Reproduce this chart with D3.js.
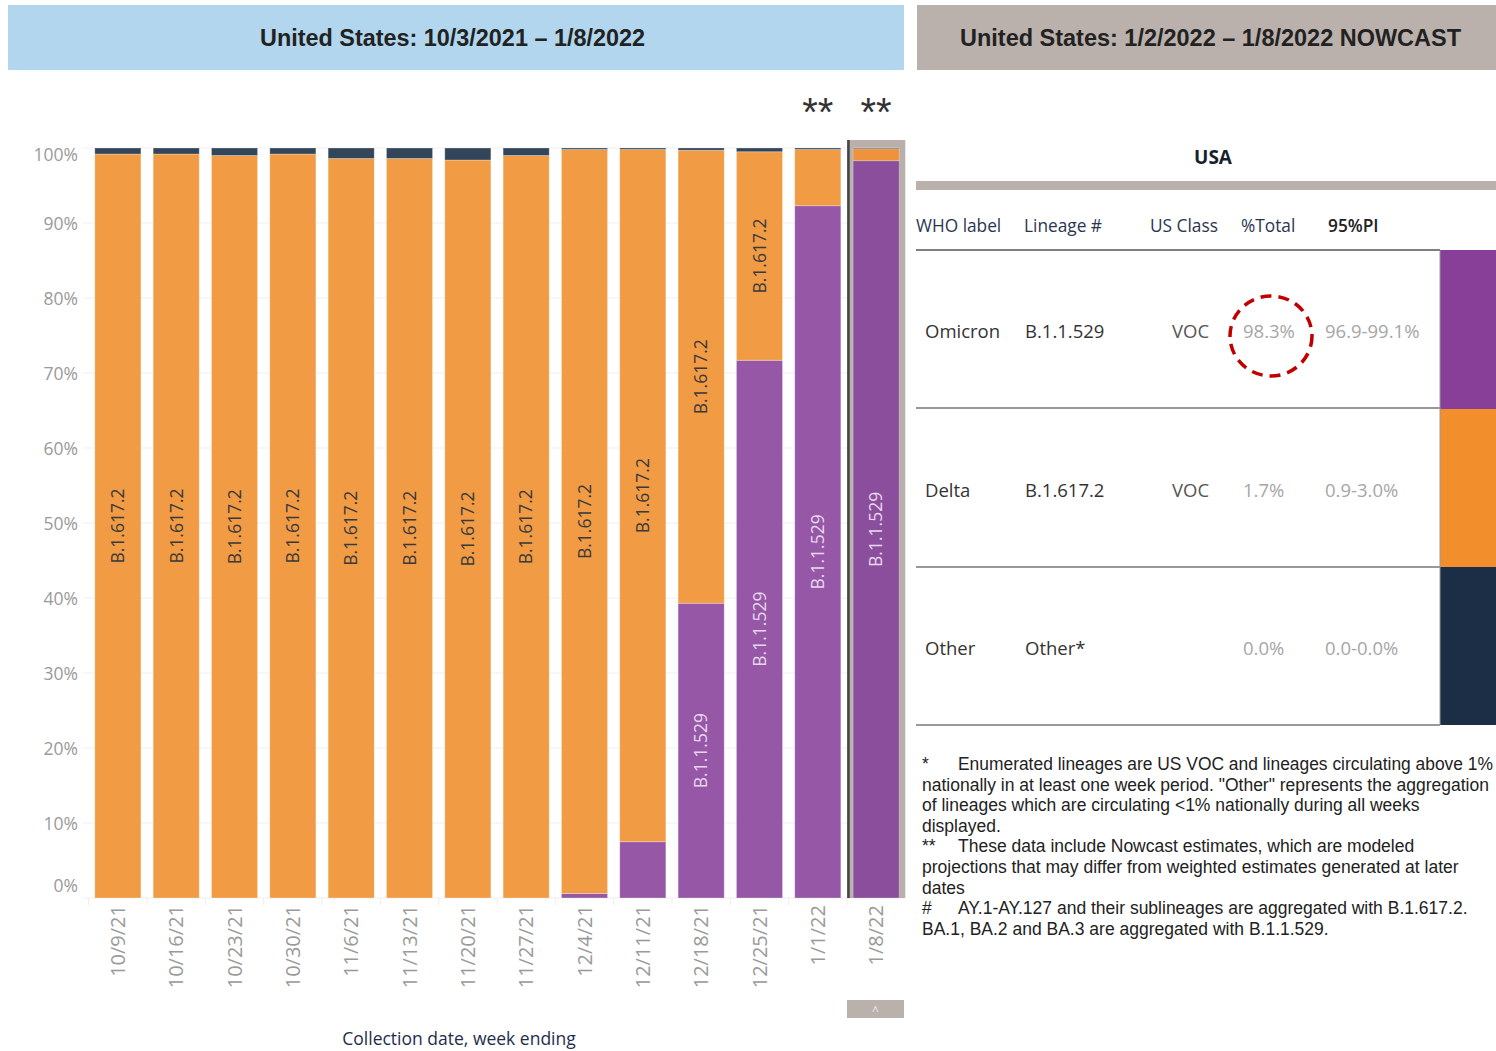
<!DOCTYPE html>
<html><head><meta charset="utf-8">
<script src="https://cdn.jsdelivr.net/npm/d3@7"></script>
<style>
html,body{margin:0;padding:0;background:#fff;overflow:hidden;}
svg{display:block;}
</style></head>
<body>
<svg id="c" width="1496" height="1051"></svg>
<script>
// ---------- DATA ----------
const weeks = ["10/9/21","10/16/21","10/23/21","10/30/21","11/6/21","11/13/21","11/20/21","11/27/21","12/4/21","12/11/21","12/18/21","12/25/21","1/1/22","1/8/22"];
const omicron = [0,0,0,0,0,0,0,0,0.6,7.5,39.3,71.7,92.3,98.3];
const other   = [0.8,0.8,1.0,0.8,1.4,1.4,1.6,1.0,0.2,0.2,0.3,0.5,0.2,0.1];
const delta   = [99.2,99.2,99.0,99.2,98.6,98.6,98.4,99.0,99.2,92.3,60.4,27.8,7.5,1.6];
const nowcastWeeks = ["1/1/22","1/8/22"];
const yTicks = [0,10,20,30,40,50,60,70,80,90,100];
const seriesNames = ["B.1.1.529","B.1.617.2","Other"];

const tableWho = ["Omicron","Delta","Other"];
const tableLineage = ["B.1.1.529","B.1.617.2","Other*"];
const tableClass = ["VOC","VOC",""];
const tablePct = ["98.3%","1.7%","0.0%"];
const tablePI = ["96.9-99.1%","0.9-3.0%","0.0-0.0%"];
const tableHeaders = ["WHO label","Lineage #","US Class","%Total","95%PI"];

const footnotes = [
  ["*","Enumerated lineages are US VOC and lineages circulating above 1%"],
  ["","nationally in at least one week period. \"Other\" represents the aggregation"],
  ["","of lineages which are circulating <1% nationally during all weeks"],
  ["","displayed."],
  ["**","These data include Nowcast estimates, which are modeled"],
  ["","projections that may differ from weighted estimates generated at later"],
  ["","dates"],
  ["#","AY.1-AY.127 and their sublineages are aggregated with B.1.617.2."],
  ["","BA.1, BA.2 and BA.3 are aggregated with B.1.1.529."]
];

// ---------- STYLE ----------
const col = {"B.1.1.529":"#9657a6","B.1.617.2":"#f29b45","Other":"#334659"};
const colSel = {"B.1.1.529":"#8b4e9c","B.1.617.2":"#ee933c","Other":"#2c3e52"};
const swatch = ["#873f98","#f28e2b","#1b2e45"];
const uiFont = "'Open Sans','Noto Sans',sans-serif";

const svg = d3.select("#c");

// ---------- TITLES ----------
svg.append("rect").attr("x",8).attr("y",5).attr("width",896).attr("height",65).attr("fill","#b1d6ed");
svg.append("rect").attr("x",917).attr("y",5).attr("width",579).attr("height",65).attr("fill","#bab0ac");
svg.append("text").attr("x",452.5).attr("y",46).attr("text-anchor","middle")
  .attr("font-family","'Liberation Sans Narrow','Arial Narrow','Liberation Sans',Arial,sans-serif")
  .attr("font-weight","bold").attr("font-size",23).attr("fill","#222")
  .attr("textLength",385).attr("lengthAdjust","spacingAndGlyphs")
  .text("United States: 10/3/2021 – 1/8/2022");
svg.append("text").attr("x",1210.5).attr("y",46).attr("text-anchor","middle")
  .attr("font-family","'Liberation Sans Narrow','Arial Narrow','Liberation Sans',Arial,sans-serif")
  .attr("font-weight","bold").attr("font-size",23).attr("fill","#222")
  .attr("textLength",501).attr("lengthAdjust","spacingAndGlyphs")
  .text("United States: 1/2/2022 – 1/8/2022 NOWCAST");

// ---------- CHART ----------
const x = d3.scaleBand().domain(weeks).range([89,905]).paddingInner(0.21).paddingOuter(0.1);
const y = d3.scaleLinear().domain([0,100]).range([898,148]);

// gridlines
svg.append("g").selectAll("line").data(yTicks).join("line")
  .attr("x1",83).attr("x2",905).attr("y1",d=>y(d)).attr("y2",d=>y(d))
  .attr("stroke","#efefef").attr("stroke-width",1);

// highlight for selected (last) week
const last = weeks[weeks.length-1];
const hlPad = x.step()*x.paddingInner()/2;
svg.append("rect").attr("x",x(last)-hlPad).attr("y",140)
  .attr("width",x.bandwidth()+2*hlPad).attr("height",y(0)-140).attr("fill","#b9b0ab");
svg.append("line").attr("x1",x(last)-hlPad+1.5).attr("x2",x(last)-hlPad+1.5)
  .attr("y1",140).attr("y2",y(0)).attr("stroke","#444").attr("stroke-width",2.5);

// stack
const rows = weeks.map((w,i)=>({week:w,"B.1.1.529":omicron[i],"B.1.617.2":delta[i],"Other":other[i]}));
const stack = d3.stack().keys(seriesNames)(rows);

const gBars = svg.append("g");
stack.forEach(layer=>{
  const key = layer.key;
  gBars.append("g").selectAll("rect").data(layer).join("rect")
    .attr("x",d=>x(d.data.week)).attr("width",x.bandwidth())
    .attr("y",d=>y(d[1])).attr("height",d=>Math.max(0,y(d[0])-y(d[1])))
    .attr("fill",d=>d.data.week===last?colSel[key]:col[key])
    .attr("stroke","#fff").attr("stroke-opacity",0.35).attr("stroke-width",0.8);
});

// segment labels
const gLab = svg.append("g");
stack.forEach(layer=>{
  const key = layer.key;
  if(key==="Other") return;
  layer.forEach(d=>{
    const h = y(d[0])-y(d[1]);
    if(h<100) return;
    const cx = x(d.data.week)+x.bandwidth()/2;
    const cy = (y(d[0])+y(d[1]))/2;
    gLab.append("text")
      .attr("transform",`translate(${cx},${cy}) rotate(-90)`)
      .attr("text-anchor","middle").attr("dy","0.36em")
      .attr("font-family",uiFont).attr("font-size",17.5)
      .attr("fill",key==="B.1.617.2"?"#3a3a3a":"#e6d6ec")
      .text(key);
  });
});

// y axis
const yAxis = svg.append("g").attr("transform","translate(80,0)")
  .call(d3.axisLeft(y).tickValues(yTicks).tickSize(0).tickPadding(2).tickFormat(d=>d+"%"));
yAxis.select(".domain").remove();
yAxis.selectAll("text").attr("font-family",uiFont).attr("font-size",17.5).attr("fill","#9a9a9a")
  .attr("dy",d=>d===100?"0.7em":(d===0?"-0.35em":"0.35em"));

// x axis
const xAxis = svg.append("g").attr("transform",`translate(0,${y(0)})`)
  .call(d3.axisBottom(x).tickSize(0).tickPadding(0));
xAxis.select(".domain").remove();
xAxis.selectAll("text")
  .attr("font-family",uiFont).attr("font-size",20).attr("fill","#9a9a9a")
  .attr("text-anchor","end").attr("transform","rotate(-90)")
  .attr("x",-7).attr("y",0).attr("dy","0.36em");
// tiny separators under axis
svg.append("g").selectAll("line").data(weeks).join("line")
  .attr("x1",d=>x(d)-hlPad).attr("x2",d=>x(d)-hlPad).attr("y1",y(0)).attr("y2",y(0)+7)
  .attr("stroke","#eeeeee");

// nowcast asterisks
svg.append("g").selectAll("text").data(nowcastWeeks).join("text")
  .attr("x",d=>x(d)+x.bandwidth()/2).attr("y",126).attr("text-anchor","middle")
  .attr("font-family","'Liberation Sans',Arial,sans-serif").attr("font-size",40).attr("fill","#333")
  .text("**");

// x title
svg.append("text").attr("x",459).attr("y",1045).attr("text-anchor","middle")
  .attr("font-family",uiFont).attr("font-size",17.5).attr("fill","#1f2d4a")
  .text("Collection date, week ending");

// scroll button
svg.append("rect").attr("x",847).attr("y",1000).attr("width",57).attr("height",18).attr("fill","#bab0ac");
svg.append("text").attr("x",875.5).attr("y",1015).attr("text-anchor","middle")
  .attr("font-family",uiFont).attr("font-size",12).attr("fill","#eee").text("^");

// ---------- TABLE ----------
svg.append("text").attr("x",1213).attr("y",164).attr("text-anchor","middle")
  .attr("font-family",uiFont).attr("font-weight","bold").attr("font-size",19).attr("fill","#1a1f2e").text("USA");
svg.append("rect").attr("x",916).attr("y",181).attr("width",580).attr("height",9).attr("fill","#bab0ac");

const headerX = [916,1024,1150,1241,1328];
svg.append("g").selectAll("text").data(tableHeaders).join("text")
  .attr("x",(d,i)=>headerX[i]).attr("y",232)
  .attr("font-family",uiFont).attr("font-size",17.3)
  .attr("font-weight",(d,i)=>i===4?"600":"normal")
  .attr("fill",(d,i)=>i===4?"#222":"#2a3550")
  .text(d=>d);

const rowTop = [250,409,567];
const rowH = 158;
svg.append("line").attr("x1",916).attr("x2",1440).attr("y1",250).attr("y2",250).attr("stroke","#555").attr("stroke-width",1.5);
rowTop.forEach((t,i)=>{
  svg.append("rect").attr("x",1440).attr("y",t).attr("width",56).attr("height",rowH+(i<2?1:0)).attr("fill",swatch[i]);
  svg.append("line").attr("x1",916).attr("x2",1440).attr("y1",t+rowH).attr("y2",t+rowH).attr("stroke","#777").attr("stroke-width",1.5);
  const cy = t+rowH/2+8.5;
  const cells = [[925,tableWho[i],"#333"],[1025,tableLineage[i],"#333"],[1172,tableClass[i],"#555"],[1243,tablePct[i],"#a6a6a6"],[1325,tablePI[i],"#a6a6a6"]];
  cells.forEach(c=>{
    svg.append("text").attr("x",c[0]).attr("y",cy)
      .attr("font-family",uiFont).attr("font-size",18.5).attr("fill",c[2]).text(c[1]);
  });
});
svg.append("line").attr("x1",1440).attr("x2",1440).attr("y1",250).attr("y2",725).attr("stroke","#999").attr("stroke-width",1);

// highlight circle
svg.append("ellipse").attr("cx",1271).attr("cy",336).attr("rx",41).attr("ry",40)
  .attr("fill","none").attr("stroke","#c00000").attr("stroke-width",3.5).attr("stroke-dasharray","11 7");

// footnotes
const fg = svg.append("g").attr("font-family","'Liberation Sans',Arial,sans-serif").attr("font-size",17.5).attr("fill","#222");
footnotes.forEach((f,i)=>{
  const ly = 770 + i*20.6;
  const tx = f[0] ? 958 : 922;
  if(f[0]) fg.append("text").attr("x",922).attr("y",ly).text(f[0]);
  const t = fg.append("text").attr("x",tx).attr("y",ly).text(f[1]);
  const w = t.node().getComputedTextLength();
  const maxW = 1493 - tx;
  if(w>maxW) t.attr("textLength",maxW).attr("lengthAdjust","spacingAndGlyphs");
});
</script>
</body></html>
